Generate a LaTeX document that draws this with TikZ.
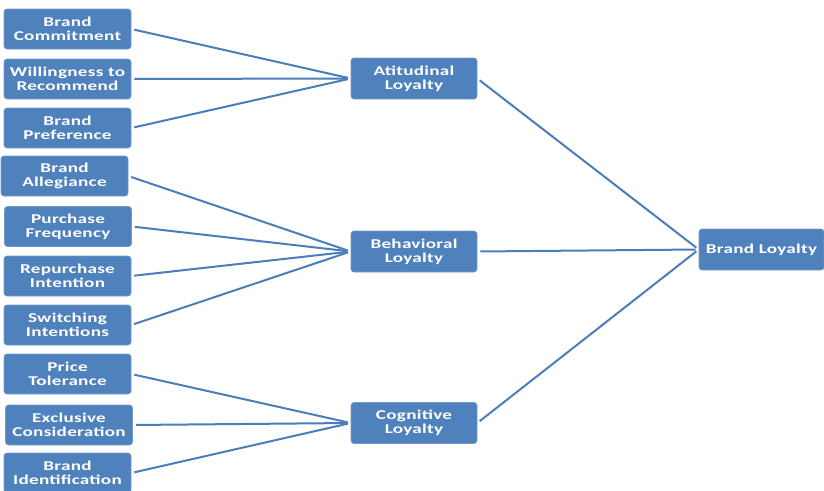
\documentclass[tikz,border=0pt]{standalone}
\usepackage{fontspec}
\newfontfamily\boxfont[FakeStretch=1.42,LetterSpace=2]{Carlito}
\definecolor{boxblue}{HTML}{4F81BD}
\definecolor{linkblue}{HTML}{4A7EBB}
\begin{document}
\begin{tikzpicture}[x=1pt,y=-1pt,
  box/.style={rectangle, rounded corners=3pt, fill=boxblue, draw=boxblue!80!white, line width=0.6pt,
    minimum width=127pt, minimum height=40pt, inner sep=0pt, align=center, text=white,
    font=\boxfont\bfseries\fontsize{13.5}{14.3}\selectfont},
  link/.style={draw=linkblue, line width=2pt, shorten <=3pt, shorten >=3pt}]
\useasboundingbox (0,0) rectangle (824,490);
% left boxes
\node[box] (bc) at (67.5,29) {Brand\\Commitment};
\node[box] (wr) at (67.5,79) {Willingness to\\Recommend};
\node[box] (bp) at (67.5,128) {Brand\\Preference};
\node[box] (ba) at (64.5,176) {Brand\\Allegiance};
\node[box] (pf) at (68,226.5) {Purchase\\Frequency};
\node[box] (ri) at (67.5,276) {Repurchase\\Intention};
\node[box] (si) at (67.5,325) {Switching\\Intentions};
\node[box] (pt) at (67.5,374) {Price\\Tolerance};
\node[box] (ec) at (69,425) {Exclusive\\Consideration};
\node[box] (bi) at (67.5,473) {Brand\\Identification};
% middle boxes
\node[box, minimum width=126pt, minimum height=41pt] (at) at (414,78.5) {Atitudinal\\Loyalty};
\node[box, minimum width=126pt, minimum height=41pt] (bh) at (414,251.5) {Behavioral\\Loyalty};
\node[box, minimum width=126pt, minimum height=41pt] (cg) at (414,423) {Cognitive\\Loyalty};
% right box
\node[box, minimum width=125pt, minimum height=41pt] (bl) at (761.5,249.5) {Brand Loyalty};
% connectors
\foreach \s in {bc,wr,bp} \draw[link] (\s.east) -- (at.west);
\foreach \s in {ba,pf,ri,si} \draw[link] (\s.east) -- (bh.west);
\foreach \s in {pt,ec,bi} \draw[link] (\s.east) -- (cg.west);
\foreach \s in {at,bh,cg} \draw[link] (\s.east) -- (bl.west);
\end{tikzpicture}
\end{document}
